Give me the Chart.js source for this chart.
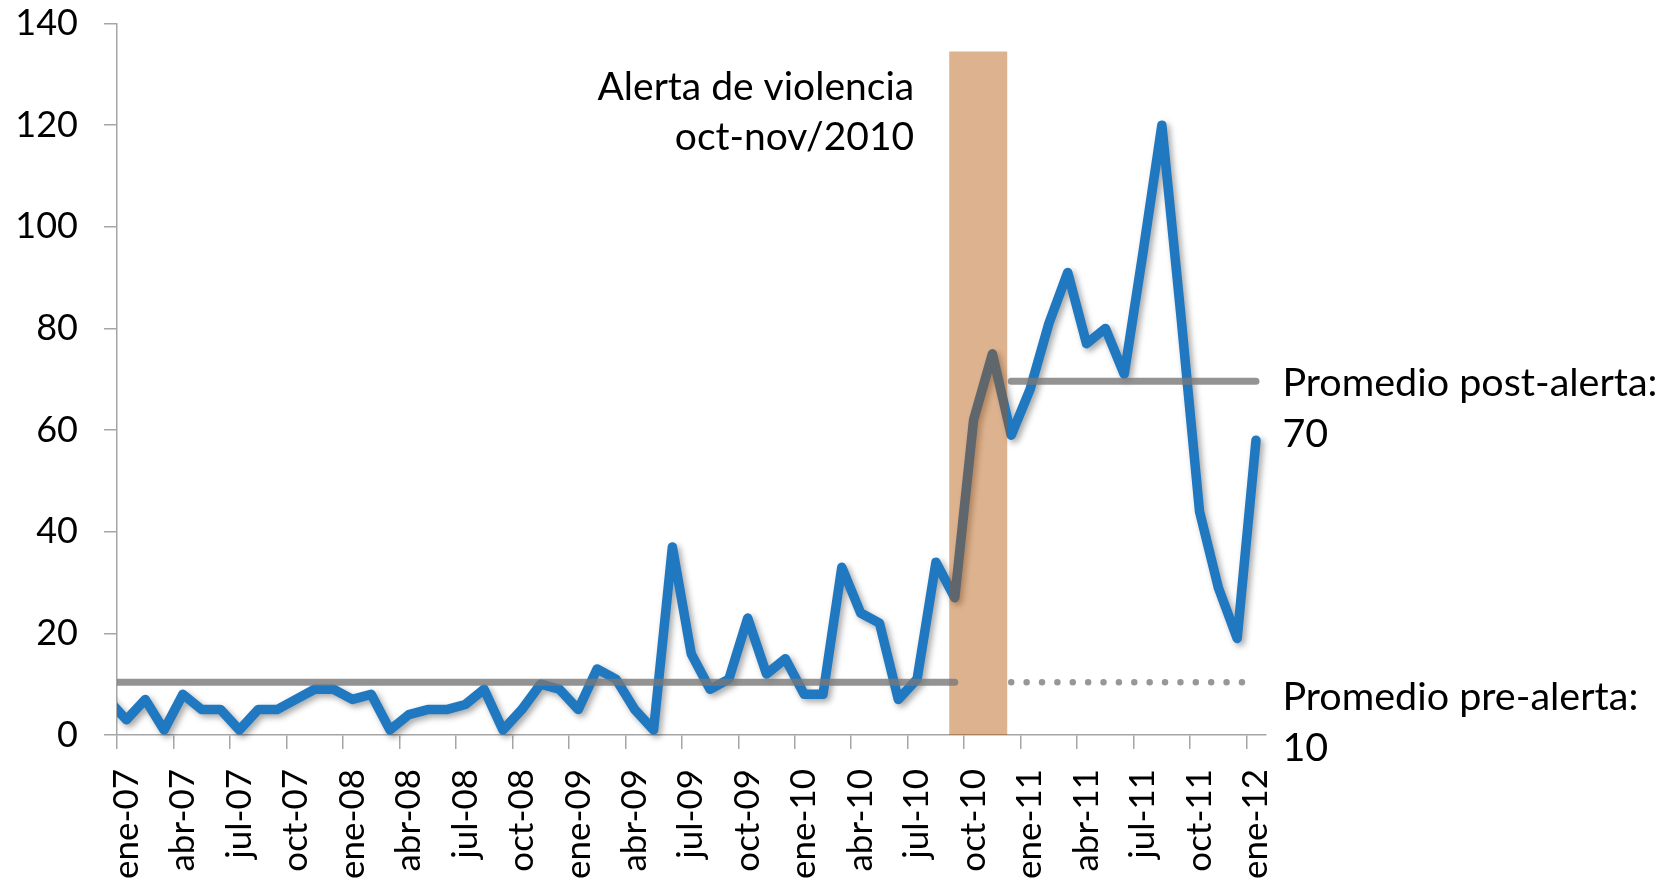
<!DOCTYPE html>
<html>
<head>
<meta charset="utf-8">
<script src="https://cdn.jsdelivr.net/npm/chart.js@4.4.1/dist/chart.umd.min.js"></script>
<style>
  html, body { margin: 0; padding: 0; background: #fff; }
  #wrap { width: 1677px; height: 882px; position: relative; }
</style>
</head>
<body>
<div id="wrap"><canvas id="alertChart"></canvas></div>
<script>
// monthly categories, dic-06 .. ene-12 (dic-06 only feeds the clipped first segment)
const monthNames = ['ene', 'feb', 'mar', 'abr', 'may', 'jun', 'jul', 'ago', 'sep', 'oct', 'nov', 'dic'];
const months = ['dic-06'];
for (let y = 7; y <= 11; y++) {
  monthNames.forEach(m => months.push(m + '-' + String(y).padStart(2, '0')));
}
months.push('ene-12');

// values, one per month
const incidents = [
  7,
  3, 7, 1, 8, 5, 5, 1, 5, 5, 7, 9, 9,        // 2007
  7, 8, 1, 4, 5, 5, 6, 9, 1, 5, 10, 9,       // 2008
  5, 13, 11, 5, 1, 37, 16, 9, 11, 23, 12, 15, // 2009
  8, 8, 33, 24, 22, 7, 11, 34, 27, 62, 75, 59, // 2010
  68, 81, 91, 77, 80, 71, 95, 120, 83, 44, 29, 19, // 2011
  58                                          // ene-12
];

const tickLabels = ['ene-07', 'abr-07', 'jul-07', 'oct-07', 'ene-08', 'abr-08', 'jul-08', 'oct-08',
  'ene-09', 'abr-09', 'jul-09', 'oct-09', 'ene-10', 'abr-10', 'jul-10', 'oct-10',
  'ene-11', 'abr-11', 'jul-11', 'oct-11', 'ene-12'];
const yTicks = [0, 20, 40, 60, 80, 100, 120, 140];

// averages before / after the alert
const preAlertAvg = 10.4;
const postAlertAvg = 69.6;
const preAlertSpan = [-0.5, 44];      // month index (ene-07 = 0)
const preAlertDotted = [47, 59.3];
const postAlertSpan = [47, 60];

// shaded alert band (in month index units) and its height
const alertBand = [43.7, 46.8];
const alertBandTop = 134.5;

const idx = m => months.indexOf(m) - 1;   // ene-07 -> 0

const FONT = 'Lato';

const shadowPlugin = {
  id: 'lineShadow',
  beforeDatasetDraw(chart, args) {
    if (args.index !== 0) return;
    const c = chart.ctx;
    c.save();
    c.shadowColor = 'rgba(0,0,0,0.35)';
    c.shadowBlur = 6;
    c.shadowOffsetX = 3;
    c.shadowOffsetY = 3;
  },
  afterDatasetDraw(chart, args) {
    if (args.index !== 0) return;
    chart.ctx.restore();
  }
};

const textPlugin = {
  id: 'notes',
  afterDraw(chart) {
    const c = chart.ctx;
    const xs = chart.scales.x, ys = chart.scales.y, area = chart.chartArea;
    c.save();
    c.fillStyle = '#000';
    c.font = '39px ' + FONT;
    c.textBaseline = 'middle';

    c.textAlign = 'right';
    const bx = xs.getPixelForValue(alertBand[0]) - 35;
    c.fillText('Alerta de violencia', bx, area.top + 64);
    c.fillText('oct-nov/2010', bx, area.top + 114);

    c.textAlign = 'left';
    const lx = area.right + 17;
    const pPost = ys.getPixelForValue(postAlertAvg);
    c.font = '39.5px ' + FONT;
    c.fillText('Promedio post-alerta:', lx, pPost + 2);
    c.fillText('70', lx, pPost + 53);
    const pPre = ys.getPixelForValue(preAlertAvg);
    c.fillText('Promedio pre-alerta:', lx, pPre + 15);
    c.fillText('10', lx, pPre + 66);
    c.restore();
  }
};

const axisGray = '#a6a6a6';

new Chart(document.getElementById('alertChart'), {
  type: 'line',
  data: {
    datasets: [
      {
        data: incidents.map((v, i) => ({ x: i - 1, y: v })),
        borderColor: '#1f78c0',
        borderWidth: 9.5,
        borderJoinStyle: 'round',
        borderCapStyle: 'round',
        pointRadius: 0,
        tension: 0,
        clip: { left: 0, top: false, right: false, bottom: false },
        order: 3
      },
      {
        data: [{ x: alertBand[0], y: alertBandTop }, { x: alertBand[1], y: alertBandTop }],
        borderWidth: 0,
        pointRadius: 0,
        fill: 'origin',
        backgroundColor: 'rgba(178,80,0,0.44)',
        order: 2
      },
      {
        data: preAlertSpan.map(x => ({ x, y: preAlertAvg })),
        borderColor: 'rgba(120,120,120,0.8)',
        borderWidth: 7,
        borderCapStyle: 'round',
        pointRadius: 0,
        clip: { left: 0, top: false, right: false, bottom: false },
        order: 1
      },
      {
        data: preAlertDotted.map(x => ({ x, y: preAlertAvg })),
        borderColor: 'rgba(140,140,140,0.9)',
        borderWidth: 6.5,
        borderCapStyle: 'round',
        borderDash: [0, 15.38],
        pointRadius: 0,
        order: 1
      },
      {
        data: postAlertSpan.map(x => ({ x, y: postAlertAvg })),
        borderColor: 'rgba(120,120,120,0.8)',
        borderWidth: 7,
        borderCapStyle: 'round',
        pointRadius: 0,
        order: 1
      }
    ]
  },
  options: {
    responsive: true,
    maintainAspectRatio: false,
    animation: false,
    events: [],
    layout: { padding: { top: 23.5, right: 411.6, left: 0, bottom: 0 } },
    plugins: {
      legend: { display: false },
      tooltip: { enabled: false }
    },
    scales: {
      x: {
        type: 'linear',
        min: -0.5,
        max: months.length - 1.5,
        afterBuildTicks: s => { s.ticks = tickLabels.map(l => ({ value: idx(l) - 0.5 })); },
        afterFit: s => { s.height = 147; s.paddingLeft = 0; s.paddingRight = 0; },
        grid: { drawOnChartArea: false, tickLength: 14, color: axisGray, lineWidth: 1.5 },
        border: { color: axisGray, width: 1.5 },
        ticks: {
          autoSkip: false,
          minRotation: 90,
          maxRotation: 90,
          padding: 20,
          labelOffset: 9.4,
          color: '#000',
          font: { family: FONT, size: 35 },
          callback: (v, i) => tickLabels[i]
        }
      },
      y: {
        min: yTicks[0],
        max: yTicks[yTicks.length - 1],
        afterBuildTicks: s => { s.ticks = yTicks.map(v => ({ value: v })); },
        afterFit: s => { s.width = 117; s.paddingTop = 0; s.paddingBottom = 0; },
        grid: { drawOnChartArea: false, tickLength: 13, color: axisGray, lineWidth: 1.5 },
        border: { color: axisGray, width: 1.5 },
        ticks: {
          padding: 26,
          color: '#000',
          font: { family: FONT, size: 36 }
        }
      }
    }
  },
  plugins: [shadowPlugin, textPlugin]
});
</script>
</body>
</html>
